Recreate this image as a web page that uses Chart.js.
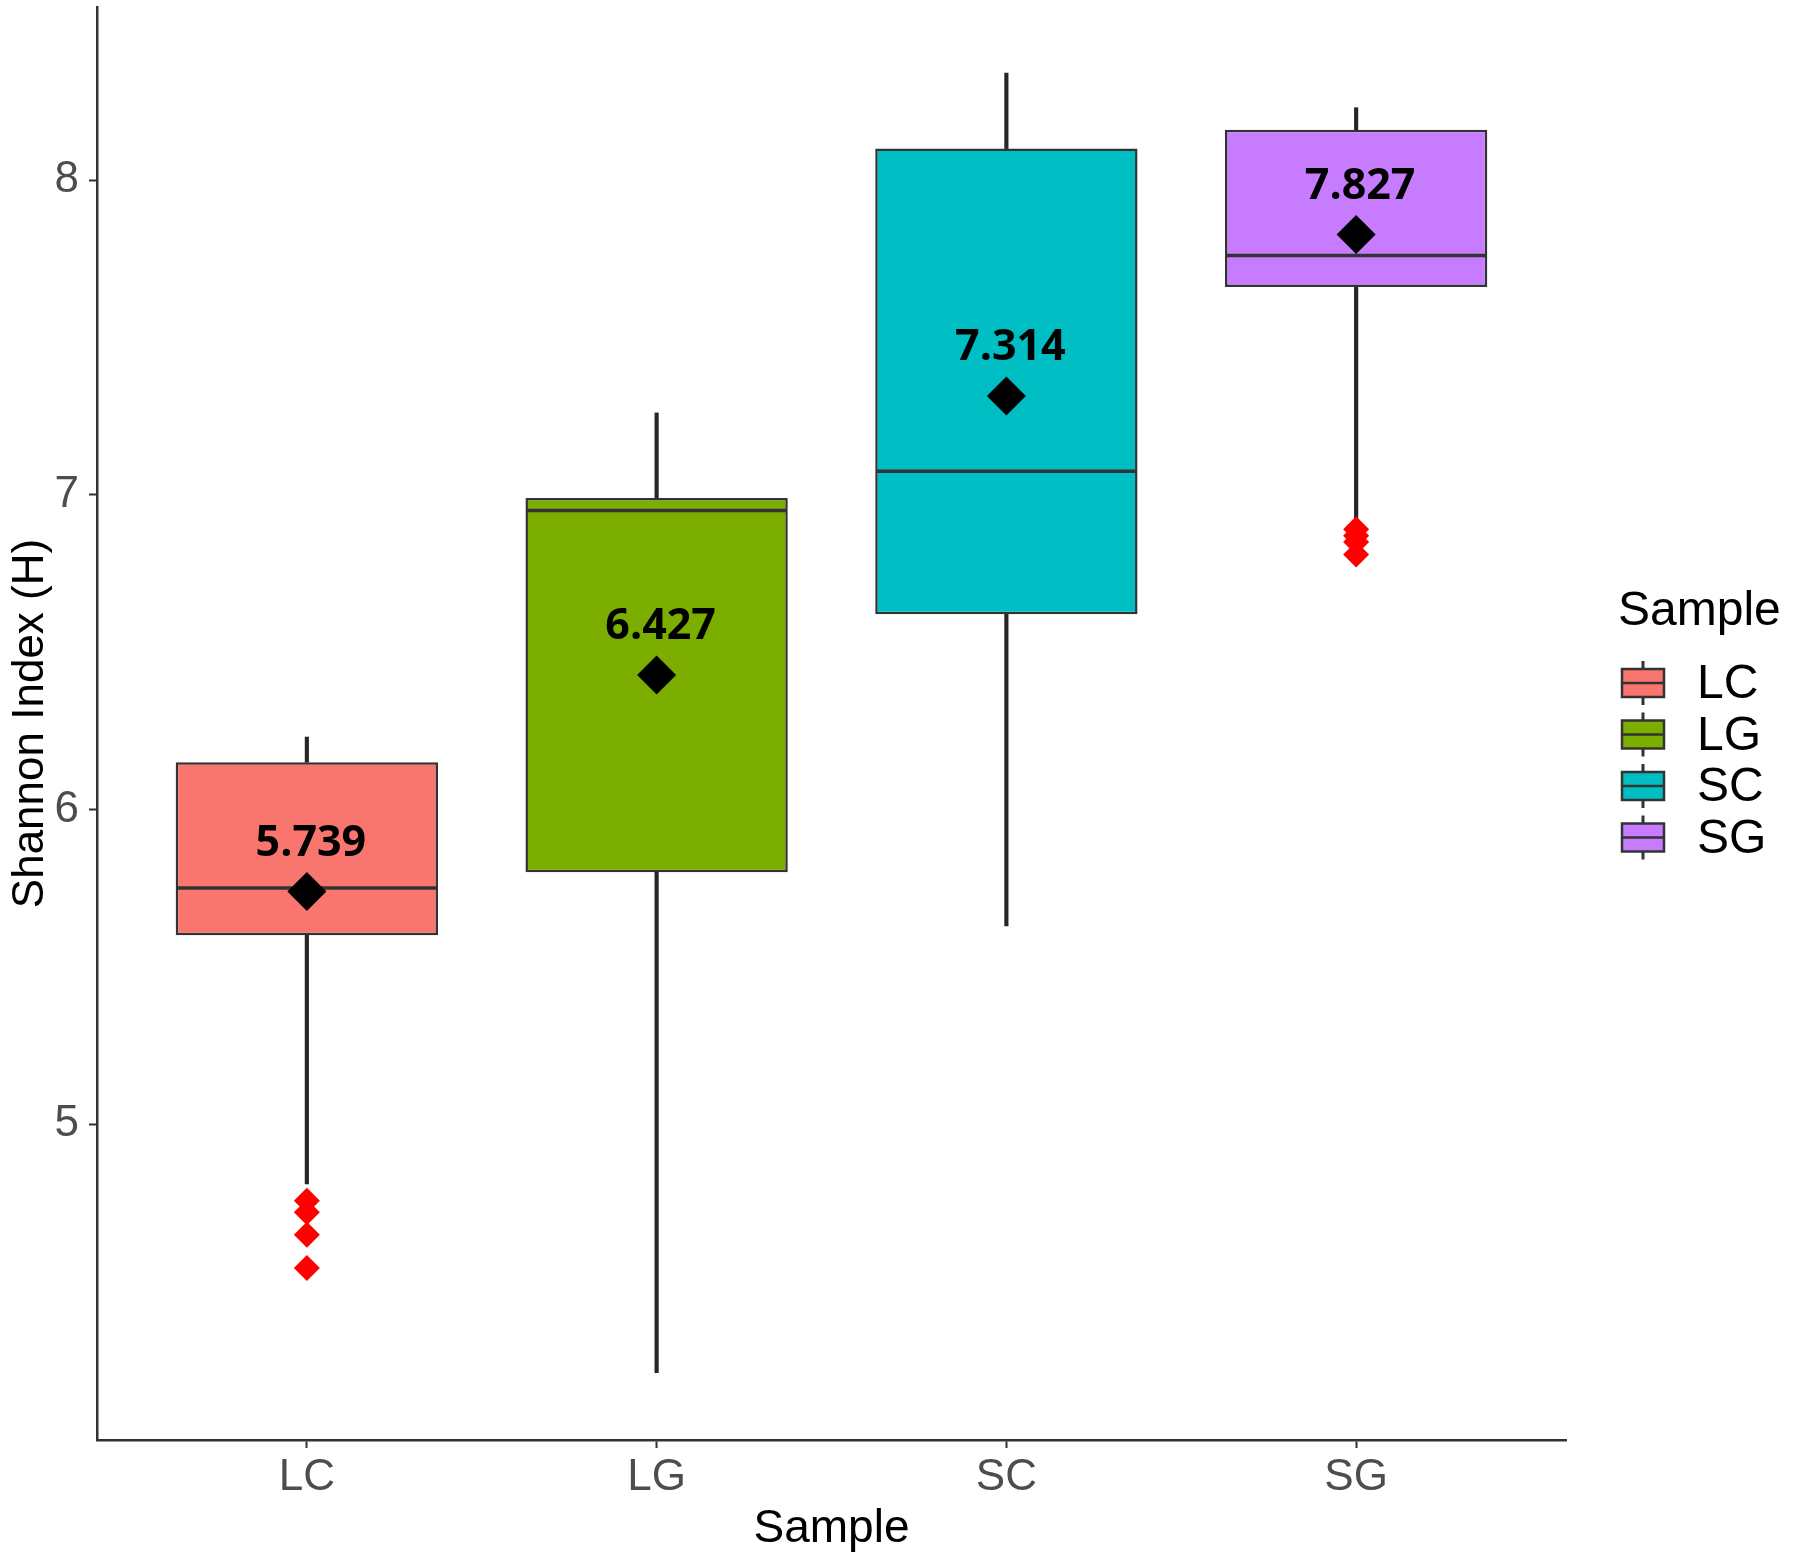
<!DOCTYPE html>
<html>
<head>
<meta charset="utf-8">
<title>Shannon Index (H)</title>
<script src="https://cdn.jsdelivr.net/npm/chart.js@4.4.1/dist/chart.umd.min.js"></script>
<style>
	html, body { margin: 0; padding: 0; background: #fff; }
	#wrap { width: 1807px; height: 1559px; }
</style>
</head>
<body>
<div id="wrap"><canvas id="myChart" width="1807" height="1559"></canvas></div>
<script>
// data
var categories = ['LC', 'LG', 'SC', 'SG'];
var boxColors = ['#F8766D', '#7CAE00', '#00BFC4', '#C77CFF'];
var whiskerLow = [4.81, 4.21, 5.63, 6.92];
var q1 = [5.60, 5.80, 6.62, 7.66];
var median = [5.75, 6.95, 7.075, 7.76];
var q3 = [6.15, 6.99, 8.10, 8.16];
var whiskerHigh = [6.23, 7.26, 8.34, 8.23];
var means = [5.739, 6.427, 7.314, 7.827];
var outlierCategory = ['LC', 'LC', 'LC', 'LC', 'SG', 'SG', 'SG', 'SG'];
var outlierValues = [4.756, 4.72, 4.648, 4.543, 6.89, 6.87, 6.85, 6.81];
var yTicks = [5, 6, 7, 8];

var axisFont = 'Liberation Sans, Arial, sans-serif';

function _pos(cat) {
	return categories.indexOf(cat) + 1;
}

function _boxData() {
	return categories.map(function(c, i) { return {x: i + 1, y: [q1[i], q3[i]]}; });
}

function _upperWhiskers() {
	return categories.map(function(c, i) { return {x: i + 1, y: [q3[i], whiskerHigh[i]]}; });
}

function _lowerWhiskers() {
	return categories.map(function(c, i) { return {x: i + 1, y: [whiskerLow[i], q1[i]]}; });
}

function _medianData() {
	return categories.map(function(c, i) { return {x: i + 1, y: median[i]}; });
}

function _meanData() {
	return categories.map(function(c, i) { return {x: i + 1, y: means[i]}; });
}

function _outlierData() {
	return outlierValues.map(function(v, i) { return {x: _pos(outlierCategory[i]), y: v}; });
}

// mean labels above the black diamonds
var meanLabelPlugin = {
	id: 'meanLabels',
	afterDatasetsDraw: function(chart) {
		var meta = chart.getDatasetMeta(5);
		var ctx = chart.ctx;
		ctx.save();
		ctx.font = 'bold 43px "Open Sans", sans-serif';
		ctx.fillStyle = '#000';
		ctx.textAlign = 'center';
		ctx.textBaseline = 'middle';
		meta.data.forEach(function(pt, i) {
			ctx.fillText(means[i].toFixed(3), pt.x + 4, pt.y - 48);
		});
		ctx.restore();
	}
};

// ggplot style legend with small box glyphs
var boxLegendPlugin = {
	id: 'boxLegend',
	afterDraw: function(chart) {
		var ctx = chart.ctx;
		var left = chart.chartArea.right + 52;
		ctx.save();
		ctx.fillStyle = '#000';
		ctx.textBaseline = 'alphabetic';
		ctx.textAlign = 'left';
		ctx.font = '48px ' + axisFont;
		ctx.fillText('Sample', left, 625);

		categories.forEach(function(c, i) {
			var cy = 683 + i * 51.5;
			var bx = left + 4;
			// whisker
			ctx.strokeStyle = '#333';
			ctx.lineWidth = 3;
			ctx.beginPath();
			ctx.moveTo(bx + 21, cy - 22);
			ctx.lineTo(bx + 21, cy + 22);
			ctx.stroke();
			// box
			ctx.fillStyle = boxColors[i];
			ctx.fillRect(bx, cy - 14, 42, 28);
			ctx.lineWidth = 2.5;
			ctx.strokeRect(bx, cy - 14, 42, 28);
			ctx.beginPath();
			ctx.moveTo(bx, cy);
			ctx.lineTo(bx + 42, cy);
			ctx.stroke();
			// label
			ctx.fillStyle = '#000';
			ctx.textBaseline = 'middle';
			ctx.font = '48px ' + axisFont;
			ctx.fillText(c, left + 79, cy + 2);
		});
		ctx.restore();
	}
};

var _config = {
	type: 'bar',
	data: {
		datasets: [
			{
				label: 'upper whisker',
				data: _upperWhiskers(),
				backgroundColor: '#262626',
				barThickness: 3.5,
				grouped: false,
				order: 4
			},
			{
				label: 'lower whisker',
				data: _lowerWhiskers(),
				backgroundColor: '#262626',
				barThickness: 3.5,
				grouped: false,
				order: 4
			},
			{
				label: 'box',
				data: _boxData(),
				backgroundColor: boxColors,
				borderColor: '#333333',
				borderWidth: 2.5,
				borderSkipped: false,
				categoryPercentage: 0.75,
				barPercentage: 1.0,
				grouped: false,
				order: 3
			},
			{
				type: 'scatter',
				label: 'median',
				data: _medianData(),
				pointStyle: 'line',
				pointRadius: 130,
				borderColor: '#333333',
				borderWidth: 3.5,
				order: 2
			},
			{
				type: 'scatter',
				label: 'outliers',
				data: _outlierData(),
				pointStyle: 'rectRot',
				pointRadius: 13,
				backgroundColor: '#FF0000',
				borderColor: '#FF0000',
				borderWidth: 0,
				order: 1
			},
			{
				type: 'scatter',
				label: 'mean',
				data: _meanData(),
				pointStyle: 'rectRot',
				pointRadius: 19.5,
				backgroundColor: '#000000',
				borderColor: '#000000',
				borderWidth: 0,
				order: 0
			}
		]
	},
	options: {
		responsive: false,
		devicePixelRatio: 1,
		animation: false,
		events: [],
		layout: {
			autoPadding: false,
			padding: { top: 7, right: 241, bottom: 0, left: 0 }
		},
		plugins: {
			legend: { display: false },
			tooltip: { enabled: false }
		},
		scales: {
			x: {
				type: 'linear',
				min: 0.4,
				max: 4.6,
				offset: false,
				afterBuildTicks: function(scale) {
					scale.ticks = categories.map(function(c, i) { return {value: i + 1}; });
				},
				afterFit: function(scale) {
					scale.height = 119;
					scale.paddingLeft = 0;
					scale.paddingRight = 0;
				},
				grid: {
					display: true,
					drawOnChartArea: false,
					drawTicks: true,
					tickLength: 8,
					tickWidth: 2,
					tickColor: '#333333',
					offset: false
				},
				border: { display: true, color: '#333333', width: 2.5 },
				ticks: {
					autoSkip: false,
					maxRotation: 0,
					padding: 3,
					color: '#4D4D4D',
					font: { family: axisFont, size: 44 },
					callback: function(value, index) {
						return categories[index];
					}
				},
				title: {
					display: true,
					text: 'Sample',
					color: '#000',
					font: { family: axisFont, size: 46 },
					padding: { top: 0, bottom: 2 }
				}
			},
			y: {
				type: 'linear',
				min: 3.996,
				max: 8.55,
				afterBuildTicks: function(scale) {
					scale.ticks = yTicks.map(function(v) { return {value: v}; });
				},
				afterFit: function(scale) {
					scale.width = 97;
					scale.paddingTop = 0;
					scale.paddingBottom = 0;
				},
				grid: {
					display: true,
					drawOnChartArea: false,
					drawTicks: true,
					tickLength: 8,
					tickWidth: 2,
					tickColor: '#333333'
				},
				border: { display: true, color: '#333333', width: 2.5 },
				ticks: {
					padding: 10,
					color: '#4D4D4D',
					font: { family: axisFont, size: 44 }
				},
				title: {
					display: true,
					text: 'Shannon Index (H)',
					color: '#000',
					font: { family: axisFont, size: 44 },
					padding: { top: 4, bottom: 0 }
				}
			}
		}
	},
	plugins: [meanLabelPlugin, boxLegendPlugin]
};

var myChart = new Chart(document.getElementById('myChart'), _config);
</script>
</body>
</html>
